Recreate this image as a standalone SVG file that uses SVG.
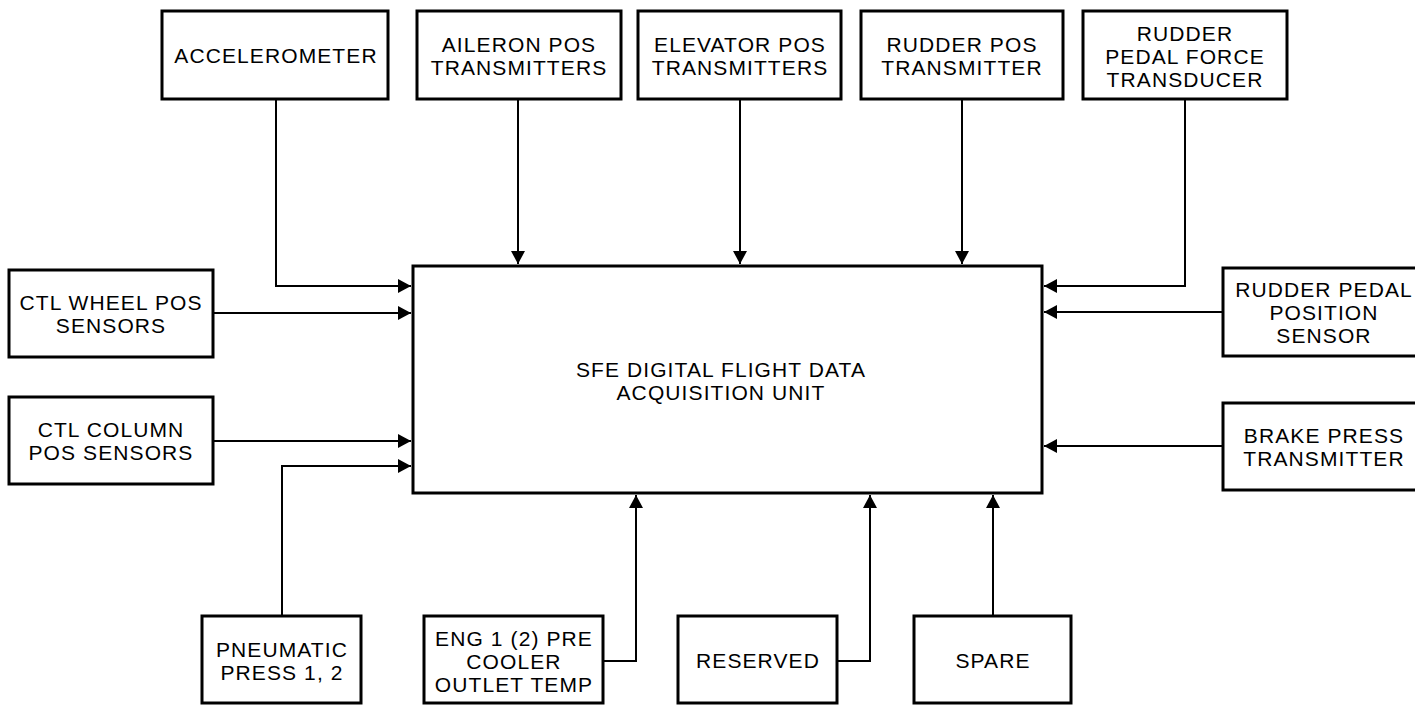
<svg xmlns="http://www.w3.org/2000/svg" width="1415" height="705" viewBox="0 0 1415 705">
<style>
.box{fill:#fff;stroke:#000;stroke-width:3}
.lbl{font-family:"Liberation Sans",Arial,sans-serif;font-size:21px;letter-spacing:1.1px;fill:#000;text-anchor:middle}
.con{fill:none;stroke:#000;stroke-width:2}
</style>
<defs>
<marker id="arr" viewBox="0 0 13 14" refX="13" refY="7" markerWidth="13" markerHeight="14" markerUnits="userSpaceOnUse" orient="auto">
<path d="M0,0 L13,7 L0,14 z" fill="#000"/>
</marker>
</defs>
<rect width="1415" height="705" fill="#fff"/>
<g id="connectors">
<path class="con" d="M276,99 V286 H411" marker-end="url(#arr)"/>
<path class="con" d="M213,313 H411" marker-end="url(#arr)"/>
<path class="con" d="M213,441 H411" marker-end="url(#arr)"/>
<path class="con" d="M282,616 V466 H411" marker-end="url(#arr)"/>
<path class="con" d="M518,99 V264" marker-end="url(#arr)"/>
<path class="con" d="M740,99 V264" marker-end="url(#arr)"/>
<path class="con" d="M962,99 V264" marker-end="url(#arr)"/>
<path class="con" d="M1185,99 V286 H1044" marker-end="url(#arr)"/>
<path class="con" d="M1223,312 H1044" marker-end="url(#arr)"/>
<path class="con" d="M1223,446 H1044" marker-end="url(#arr)"/>
<path class="con" d="M603,661 H636 V495" marker-end="url(#arr)"/>
<path class="con" d="M837,661 H870 V495" marker-end="url(#arr)"/>
<path class="con" d="M993,616 V495" marker-end="url(#arr)"/>
</g>
<g id="dfdau">
<rect class="box" x="413" y="266" width="629" height="227"/>
<text class="lbl" x="721" y="377">SFE DIGITAL FLIGHT DATA</text>
<text class="lbl" x="721" y="400">ACQUISITION UNIT</text>
</g>
<g id="accelerometer">
<rect class="box" x="162" y="11" width="226" height="88"/>
<text class="lbl" x="276" y="63">ACCELEROMETER</text>
</g>
<g id="aileron">
<rect class="box" x="417" y="11" width="204" height="88"/>
<text class="lbl" x="519" y="52">AILERON POS</text>
<text class="lbl" x="519" y="75">TRANSMITTERS</text>
</g>
<g id="elevator">
<rect class="box" x="638" y="11" width="203" height="88"/>
<text class="lbl" x="740" y="52">ELEVATOR POS</text>
<text class="lbl" x="740" y="75">TRANSMITTERS</text>
</g>
<g id="rudder-pos">
<rect class="box" x="861" y="11" width="202" height="88"/>
<text class="lbl" x="962" y="52">RUDDER POS</text>
<text class="lbl" x="962" y="75">TRANSMITTER</text>
</g>
<g id="rudder-pedal-force">
<rect class="box" x="1083" y="11" width="204" height="88"/>
<text class="lbl" x="1185" y="41">RUDDER</text>
<text class="lbl" x="1185" y="64">PEDAL FORCE</text>
<text class="lbl" x="1185" y="87">TRANSDUCER</text>
</g>
<g id="ctl-wheel">
<rect class="box" x="9" y="270" width="204" height="87"/>
<text class="lbl" x="111" y="310">CTL WHEEL POS</text>
<text class="lbl" x="111" y="333">SENSORS</text>
</g>
<g id="ctl-column">
<rect class="box" x="9" y="397" width="204" height="87"/>
<text class="lbl" x="111" y="437">CTL COLUMN</text>
<text class="lbl" x="111" y="460">POS SENSORS</text>
</g>
<g id="rudder-pedal-pos">
<rect class="box" x="1223" y="268" width="204" height="88"/>
<text class="lbl" x="1324" y="297">RUDDER PEDAL</text>
<text class="lbl" x="1324" y="320">POSITION</text>
<text class="lbl" x="1324" y="343">SENSOR</text>
</g>
<g id="brake-press">
<rect class="box" x="1223" y="403" width="204" height="87"/>
<text class="lbl" x="1324" y="443">BRAKE PRESS</text>
<text class="lbl" x="1324" y="466">TRANSMITTER</text>
</g>
<g id="pneumatic">
<rect class="box" x="202" y="616" width="159" height="87"/>
<text class="lbl" x="282" y="657">PNEUMATIC</text>
<text class="lbl" x="282" y="680">PRESS 1, 2</text>
</g>
<g id="eng-precooler">
<rect class="box" x="424" y="616" width="179" height="87"/>
<text class="lbl" x="514" y="646">ENG 1 (2) PRE</text>
<text class="lbl" x="514" y="669">COOLER</text>
<text class="lbl" x="514" y="692">OUTLET TEMP</text>
</g>
<g id="reserved">
<rect class="box" x="678" y="616" width="159" height="87"/>
<text class="lbl" x="758" y="668">RESERVED</text>
</g>
<g id="spare">
<rect class="box" x="914" y="616" width="157" height="87"/>
<text class="lbl" x="993" y="668">SPARE</text>
</g>
</svg>
